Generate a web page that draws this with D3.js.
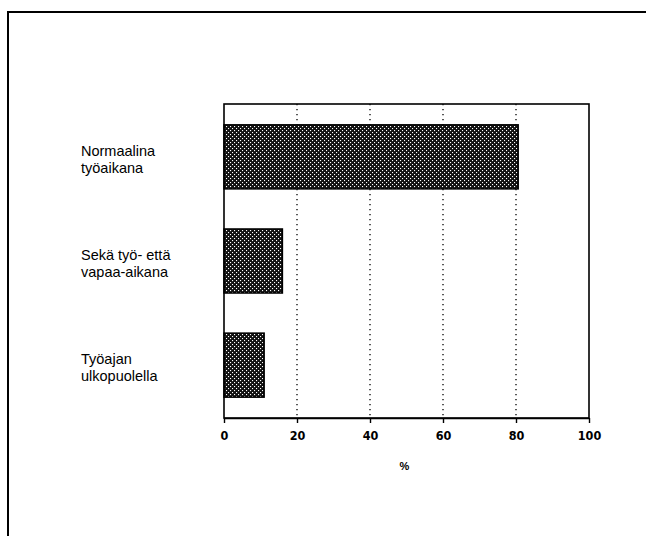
<!DOCTYPE html>
<html>
<head>
<meta charset="utf-8">
<script src="https://cdn.jsdelivr.net/npm/d3@7"></script>
<style>
  body { margin: 0; background: #fff; }
</style>
</head>
<body>
<div id="content"></div>
<script>
// ******* DATA *******
const categories = [
    ["Normaalina", "työaikana"],
    ["Sekä työ- että", "vapaa-aikana"],
    ["Työajan", "ulkopuolella"]
];
const values = [80.6, 16, 11];
const xTicks = [0, 20, 40, 60, 80, 100];
const gridTicks = [20, 40, 60, 80];
const xLabel = "%";

// ******* LAYOUT *******
const width = 646, height = 536;
const plot = { left: 224, right: 589, top: 104, bottom: 418 };

const svg = d3.select("#content").append("svg")
    .attr("width", width)
    .attr("height", height);

// dotted fill like the scanned screen tone
const defs = svg.append("defs");
const pat = defs.append("pattern")
    .attr("id", "dots")
    .attr("patternUnits", "userSpaceOnUse")
    .attr("width", 4)
    .attr("height", 4);
pat.append("rect").attr("width", 4).attr("height", 4).attr("fill", "#111");
pat.append("rect").attr("x", 0).attr("y", 0).attr("width", 1.1).attr("height", 1.1).attr("fill", "#fff");
pat.append("rect").attr("x", 2).attr("y", 2).attr("width", 1.1).attr("height", 1.1).attr("fill", "#fff");

// outer frame (top and left edges visible)
svg.append("path")
    .attr("d", `M8,${height} L8,12 L${width},12`)
    .attr("fill", "none")
    .attr("stroke", "#000")
    .attr("stroke-width", 2);

// scales
const x = d3.scaleLinear().domain([0, 100]).range([plot.left, plot.right]);
const y = d3.scaleBand()
    .domain(d3.range(categories.length))
    .range([plot.top, plot.bottom])
    .paddingInner(0.385)
    .paddingOuter(0.2);

// gridlines
svg.append("g").selectAll("line")
    .data(gridTicks)
    .join("line")
    .attr("x1", d => x(d)).attr("x2", d => x(d))
    .attr("y1", plot.top).attr("y2", plot.bottom)
    .attr("stroke", "#000")
    .attr("stroke-width", 1.3)
    .attr("stroke-dasharray", "1.3,3.7");

// bars
svg.append("g").selectAll("rect")
    .data(values)
    .join("rect")
    .attr("x", x(0))
    .attr("y", (d, i) => y(i))
    .attr("width", d => x(d) - x(0))
    .attr("height", y.bandwidth())
    .attr("fill", "url(#dots)")
    .attr("stroke", "#000")
    .attr("stroke-width", 1.5);

// plot frame
svg.append("rect")
    .attr("x", plot.left).attr("y", plot.top)
    .attr("width", plot.right - plot.left)
    .attr("height", plot.bottom - plot.top)
    .attr("fill", "none")
    .attr("stroke", "#000")
    .attr("stroke-width", 1.6);

// x axis
const xAxis = svg.append("g")
    .attr("transform", `translate(0,${plot.bottom})`)
    .call(d3.axisBottom(x).tickValues(xTicks).tickSize(5).tickSizeOuter(0).tickPadding(8));
xAxis.select(".domain").attr("stroke-width", 1.6);
xAxis.selectAll(".tick line").attr("stroke-width", 1.4);
xAxis.selectAll("text")
    .attr("font-family", "'Liberation Sans Narrow', 'DejaVu Sans Condensed', sans-serif")
    .attr("font-weight", "bold")
    .attr("font-size", 12.5)
    .attr("fill", "#000");

svg.append("text")
    .attr("x", (plot.left + plot.right) / 2 - 2)
    .attr("y", 470)
    .attr("text-anchor", "middle")
    .attr("font-family", "'Liberation Sans Narrow', sans-serif")
    .attr("font-weight", "bold")
    .attr("font-size", 11)
    .text(xLabel);

// category labels
const labels = svg.append("g").selectAll("text")
    .data(categories)
    .join("text")
    .attr("x", 81)
    .attr("y", (d, i) => y(i) + y.bandwidth() / 2 - 1)
    .attr("font-family", "'Liberation Sans', Arial, sans-serif")
    .attr("font-size", 14.5)
    .attr("fill", "#000");
labels.selectAll("tspan")
    .data(d => d)
    .join("tspan")
    .attr("x", 81)
    .attr("dy", (d, i) => i === 0 ? 0 : 17)
    .text(d => d);
</script>
</body>
</html>
